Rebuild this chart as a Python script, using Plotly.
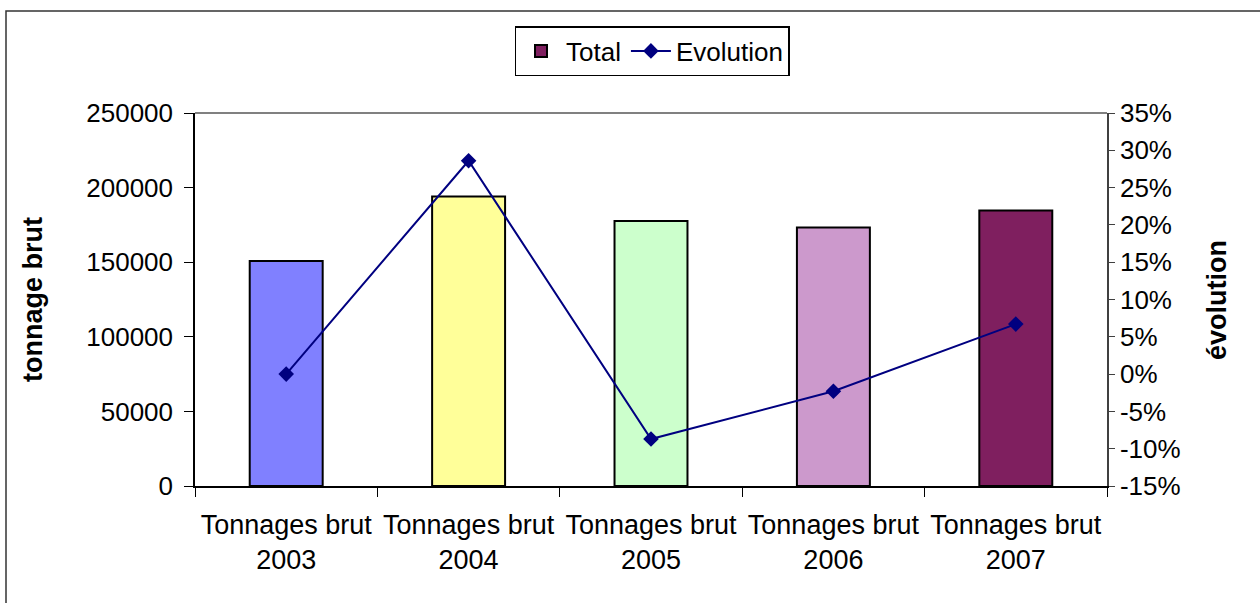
import plotly.graph_objects as go

# Gross tonnage per year and year-on-year change
years = ["2003", "2004", "2005", "2006", "2007"]
categories = ["Tonnages brut " + y for y in years]
tonnage = [150800, 194000, 177600, 173300, 184700]
evolution = [0.0, 0.286, -0.087, -0.023, 0.067]
bar_colors = ["#8080FF", "#FFFF99", "#CCFFCC", "#CC99CC", "#7F1F5F"]

# right-axis tick values and their labels
pct_ticks = [-0.15, -0.10, -0.05, 0.0, 0.05, 0.10, 0.15, 0.20, 0.25, 0.30, 0.35]
pct_labels = ["-15%", "-10%", "-5%", "0%", "5%", "10%", "15%",
              "20%", "25%", "30%", "35%"]

FONT = "Liberation Sans, Arial, sans-serif"

fig = go.Figure()

fig.add_trace(go.Bar(
    x=categories, y=tonnage, name="Total", showlegend=False,
    marker=dict(color=bar_colors, line=dict(color="black", width=2)),
    yaxis="y",
))
# legend entry for the bar series
fig.add_trace(go.Bar(
    x=[categories[0]], y=[None], name="Total",
    marker=dict(color=bar_colors[-1], line=dict(color="black", width=2)),
    yaxis="y",
))
fig.add_trace(go.Scatter(
    x=categories, y=evolution, name="Evolution", mode="lines+markers",
    line=dict(color="#000080", width=2),
    marker=dict(symbol="diamond", size=12, color="#000080"),
    yaxis="y2",
))

W, H = 1260, 603
L, R, T, B = 195, 153, 113, 117
pw, ph = W - L - R, H - T - B


def px(xp):
    return (xp - L) / pw


def py(yp):
    return (H - B - yp) / ph


fig.update_layout(
    width=W, height=H,
    margin=dict(l=L, r=R, t=T, b=B, autoexpand=False),
    paper_bgcolor="white", plot_bgcolor="white",
    font=dict(family=FONT, size=26, color="black"),
    barmode="overlay", bargap=0.6,
    xaxis=dict(
        type="category", tickvals=categories,
        ticktext=[c.replace(" 2", "<br>2") for c in categories],
        showline=True, linecolor="black", linewidth=1.5,
        ticks="outside", ticklen=9, tickcolor="black", tickson="boundaries",
        showgrid=False, tickfont=dict(size=27), ticklabelstandoff=14,
        automargin=False,
    ),
    yaxis=dict(
        range=[0, 250000], dtick=50000, tickformat="d",
        showline=True, linecolor="black", linewidth=1.5,
        ticks="outside", ticklen=9, tickcolor="black",
        showgrid=False, zeroline=False, ticklabelstandoff=6,
        tickfont=dict(size=26), automargin=False,
    ),
    yaxis2=dict(
        overlaying="y", side="right",
        range=[-0.15, 0.35], tickvals=pct_ticks, ticktext=pct_labels,
        showline=True, linecolor="#404040", linewidth=1.5,
        ticks="outside", ticklen=6, tickcolor="#404040",
        showgrid=False, zeroline=False, ticklabelstandoff=0,
        tickfont=dict(size=26), automargin=False,
    ),
    legend=dict(
        orientation="h", x=px(652), xanchor="center", y=py(26), yanchor="top",
        bordercolor="black", borderwidth=1.5, bgcolor="white",
        font=dict(size=26), itemwidth=40, traceorder="normal",
    ),
    annotations=[
        dict(text="<b>tonnage brut</b>", xref="paper", yref="paper",
             x=px(33), y=py(300), textangle=-90, showarrow=False,
             font=dict(size=27), xanchor="center", yanchor="middle"),
        dict(text="<b>évolution</b>", xref="paper", yref="paper",
             x=px(1217), y=py(300), textangle=-90, showarrow=False,
             font=dict(size=27), xanchor="center", yanchor="middle"),
    ],
    shapes=[
        # plot area frame (top edge)
        dict(type="line", xref="paper", yref="paper", x0=0, x1=1, y0=1, y1=1,
             line=dict(color="#808080", width=2)),
        # outer chart frame
        dict(type="rect", xref="paper", yref="paper",
             x0=px(6), x1=px(1275), y0=py(11), y1=py(620),
             line=dict(color="#333333", width=1.5), layer="below"),
    ],
)

fig.write_html("out.html")
